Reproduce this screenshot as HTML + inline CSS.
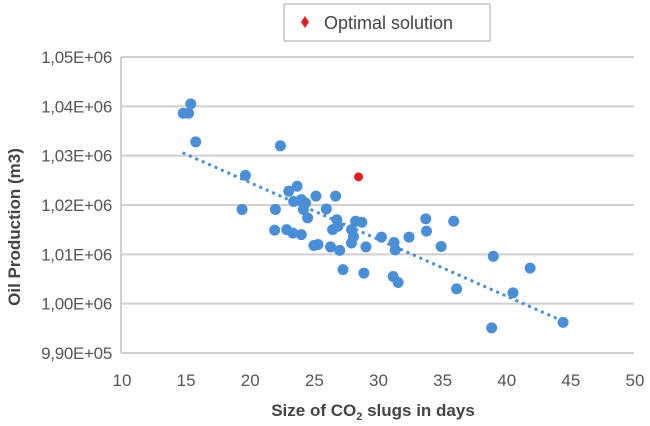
<!DOCTYPE html>
<html><head><meta charset="utf-8"><style>
html,body{margin:0;padding:0;background:#fff;}
svg{display:block;font-family:"Liberation Sans",sans-serif;}
</style></head><body>
<svg id="chart" width="650" height="426" viewBox="0 0 650 426">
<g>
<rect x="284" y="4" width="206" height="37" fill="#fff" stroke="#aaa" stroke-width="1"/>
<path d="M305 16 L309 22 L305 28 L301 22 Z" fill="#e02020"/>
<text x="324" y="29" font-size="18" fill="#444">Optimal solution</text>
</g>
<g id="grid"></g>
<g id="ticks"></g>
<g id="trend"></g>
<g id="points"></g>
<text x="373" y="416" text-anchor="middle" font-size="17" font-weight="bold" fill="#444">Size of CO<tspan font-size="11" dy="4">2</tspan><tspan dy="-4"> slugs in days</tspan></text>
<text transform="translate(20,227) rotate(-90)" text-anchor="middle" font-size="17" font-weight="bold" fill="#444">Oil Production (m3)</text>
</svg>
<script>
const xTicks=[10,15,20,25,30,35,40,45,50];
const yTicks=[990,1000,1010,1020,1030,1040,1050];
const yTickLabels=["9,90E+05","1,00E+06","1,01E+06","1,02E+06","1,03E+06","1,04E+06","1,05E+06"];
const ptsX=[14.85,15.27,15.44,15.83,22.43,19.70,19.44,22.04,21.98,23.08,23.73,23.47,24.06,24.39,24.22,24.55,22.92,23.41,24.06,25.20,26.01,26.73,26.83,26.50,26.92,25.04,25.36,26.34,27.05,27.31,28.29,28.78,27.97,28.13,27.97,29.10,28.94,30.31,31.29,31.38,31.22,31.61,32.46,33.76,33.82,34.96,35.94,36.17,39.03,38.90,40.56,41.90,44.47];
const ptsY=[1038.6,1038.6,1040.5,1032.8,1032.0,1026.0,1019.1,1019.1,1014.9,1022.8,1023.8,1020.7,1021.1,1020.4,1019.1,1017.4,1015.0,1014.3,1014.0,1021.8,1019.2,1021.8,1017.0,1015.0,1015.7,1011.8,1012.0,1011.5,1010.8,1006.9,1016.7,1016.5,1015.0,1013.6,1012.3,1011.5,1006.2,1013.5,1012.4,1010.9,1005.5,1004.3,1013.5,1017.2,1014.7,1011.6,1016.7,1003.0,1009.6,995.1,1002.2,1007.2,996.2];
const optX=[28.52];
const optY=[1025.7];
const trendX=[14.8,44.5];
const trendY=[1030.6,996.4];

const NS="http://www.w3.org/2000/svg";
const X0=121,X1=634,Y0=353,Y1=57;
function sx(v){return X0+(v-10)/40*(X1-X0);}
function sy(v){return Y0-(v-990)/60*(Y0-Y1);}
function mk(t,a,p){const e=document.createElementNS(NS,t);for(const k in a)e.setAttribute(k,a[k]);p.appendChild(e);return e;}
const grid=document.getElementById('grid'),ticks=document.getElementById('ticks');
yTicks.forEach((v,i)=>{
  const l=mk('line',{x1:X0,x2:X1,y1:sy(v),y2:sy(v),stroke:'#cfcfcf','stroke-width':2},grid);
  
  
  const t=mk('text',{x:112,y:sy(v)+6,'text-anchor':'end','font-size':17,fill:'#555','letter-spacing':'-0.3'},ticks);
  t.textContent=yTickLabels[i];
  
  
});
const ax=mk('line',{x1:X0,x2:X0,y1:Y1,y2:Y0,stroke:'#cfcfcf','stroke-width':2},grid);


xTicks.forEach(v=>{
  const t=mk('text',{x:sx(v)+1,y:386,'text-anchor':'middle','font-size':17,fill:'#555'},ticks);
  t.textContent=v;
  
  
});
const tr=mk('line',{x1:sx(trendX[0]),y1:sy(trendY[0]),x2:sx(trendX[1]),y2:sy(trendY[1]),stroke:'#4a90d0','stroke-width':3,'stroke-dasharray':'3 4'},document.getElementById('trend'));


const pg=document.getElementById('points');
ptsX.forEach((x,i)=>{
  const c=mk('circle',{cx:sx(x),cy:sy(ptsY[i]),r:5.5,fill:'#4a8fd6'},pg);
  
  
});
optX.forEach((x,i)=>{
  const c=mk('circle',{cx:sx(x),cy:sy(optY[i]),r:4.5,fill:'#e02020'},pg);
  
  
});
</script>
</body></html>
